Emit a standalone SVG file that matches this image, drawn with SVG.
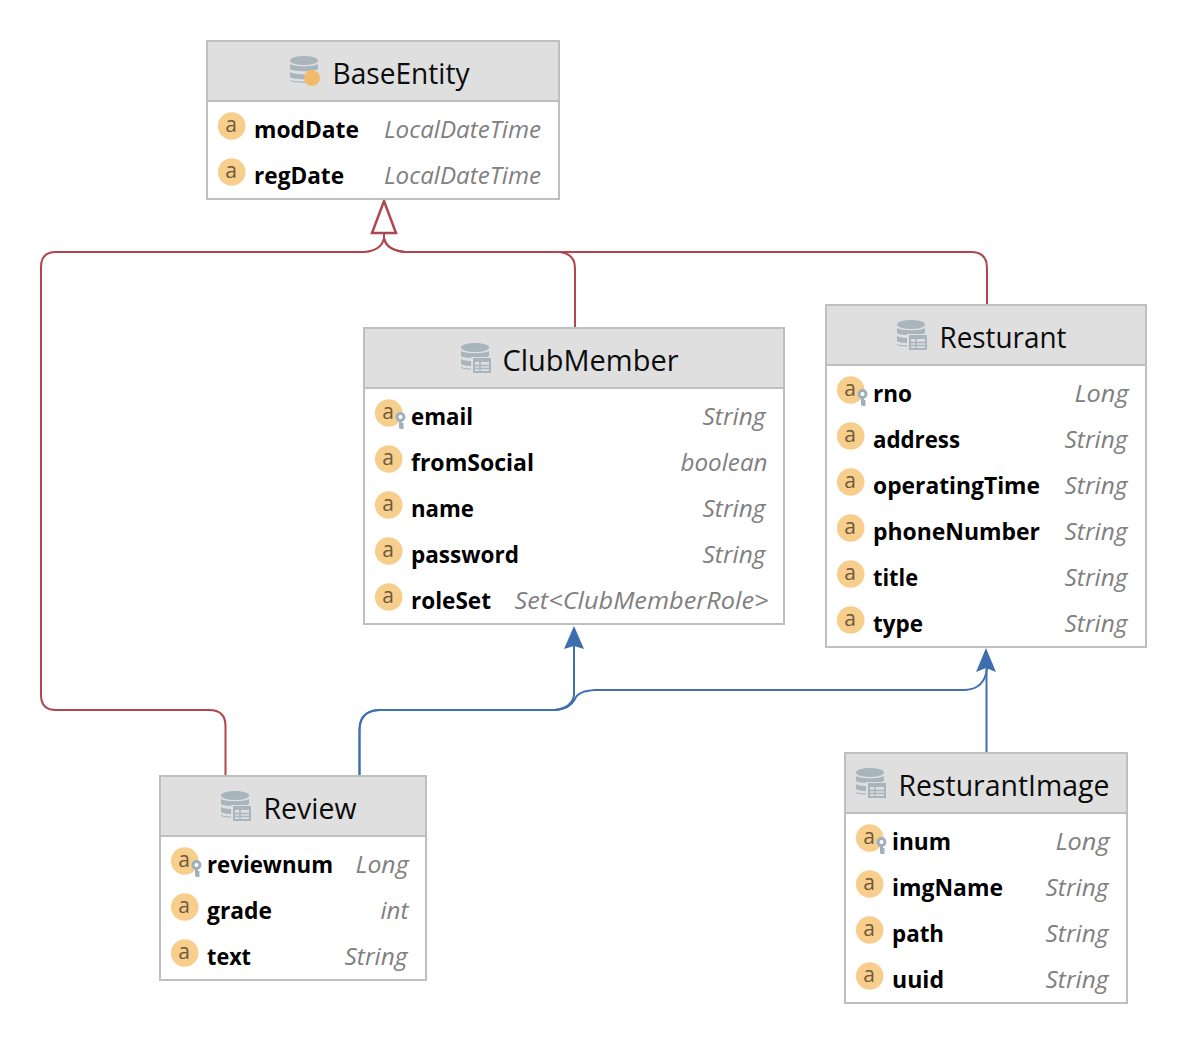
<svg xmlns="http://www.w3.org/2000/svg" width="1188" height="1039" viewBox="0 0 1188 1039">
<style>
text{font-family:"Open Sans","Noto Sans","Liberation Sans",sans-serif}
.box{fill:#fff;stroke:#bfbfbf;stroke-width:2}
.head{fill:#dfdfdf;stroke:#bfbfbf;stroke-width:2}
.title{font-size:29px;fill:#0c0c0c}
.n{font-size:24px;font-weight:700;fill:#000}
.t{font-size:24px;font-style:italic;fill:#808080}
.r{fill:none;stroke:#b0474f;stroke-width:2}
.b{fill:none;stroke:#4070b0;stroke-width:2}
.ic{font-size:21px;fill:#6b5a3e}
</style>
<defs>
<g id="a"><circle cx="-0.300" cy="0" r="13.800" fill="#f8ce8d"/><text class="ic" x="-1" y="5.500" text-anchor="middle">a</text></g>
<g id="k"><use href="#a"/><circle cx="11.500" cy="4" r="3.500" fill="#fff" stroke="#9fb0bd" stroke-width="3"/><path d="M11.500,7V15.500M11.500,11.500h3M11.500,14.500h3" fill="none" stroke="#9fb0bd" stroke-width="3"/></g>
<g id="db"><ellipse cx="14" cy="4.500" rx="14" ry="4.500" fill="#a9b5bd"/><path d="M0,8c4,3 24,3 28,0v5c-4,3 -24,3 -28,0zM0,16c4,3 24,3 28,0v5c-4,3 -24,3 -28,0zM0,24c4,2 24,2 28,0v0.500c0,3 -28,3 -28,0z" fill="#a9b5bd"/></g>
<g id="tb"><rect x="-2" y="-1" width="22" height="18" fill="#dfdfdf"/><rect x="0" y="0" width="18" height="15" fill="#a9b5bd"/><path d="M2,4h14v9h-14z" fill="#dfdfdf"/><path d="M2,7.500h14M2,10.500h14M7,4v9" stroke="#a9b5bd" stroke-width="1.500"/></g>
</defs>
<g id="connectors">
<path class="r" d="M225.500,775V726Q225.500,710 209,710H56Q41,710 41,695V267Q41,252 56,252H365Q382,250 384,238V232"/>
<path class="r" d="M575,327V268Q575,253 558,252H405Q386,250 384,238"/>
<path class="r" d="M987,304V268Q987,252 971,252H405Q386,250 384,238"/>
<path d="M384,201L396,233H372Z" fill="#fff" stroke="#b0474f" stroke-width="2.500"/>
<path class="b" d="M359.500,775V730Q359.500,711 379,710H555Q572,708 574,695V640"/>
<path class="b" d="M359.500,775V730Q359.500,711 379,710H555Q570,709 575,699Q578,691 595,690H965Q985,689 987,668"/>
<path class="b" d="M986.500,752V660"/>
<path d="M574,626L584,649L574,646L564,649Z" fill="#3d6fae"/>
<path d="M986,648L996,672L986,668L976,672Z" fill="#3d6fae"/>
</g>
<g id="BaseEntity">
<rect class="box" x="207" y="41" width="352" height="158"/><rect class="head" x="207" y="41" width="352" height="60"/>
<use href="#db" x="290" y="56"/><circle cx="312" cy="78" r="8" fill="#f0bc6c"/>
<text class="title" x="332.500" y="84" textLength="137" lengthAdjust="spacingAndGlyphs">BaseEntity</text>
<use href="#a" x="232" y="126"/><text class="n" x="254" y="138" textLength="105" lengthAdjust="spacingAndGlyphs">modDate</text><text class="t" x="384" y="138" textLength="157" lengthAdjust="spacingAndGlyphs">LocalDateTime</text>
<use href="#a" x="232" y="172"/><text class="n" x="254" y="184" textLength="90" lengthAdjust="spacingAndGlyphs">regDate</text><text class="t" x="384" y="184" textLength="157" lengthAdjust="spacingAndGlyphs">LocalDateTime</text>
</g>
<g id="ClubMember">
<rect class="box" x="364" y="328" width="420" height="296"/><rect class="head" x="364" y="328" width="420" height="60"/>
<use href="#db" x="461" y="343"/><use href="#tb" x="473" y="358"/>
<text class="title" x="502.500" y="371" textLength="176" lengthAdjust="spacingAndGlyphs">ClubMember</text>
<use href="#k" x="389" y="413"/><text class="n" x="411" y="425" textLength="62" lengthAdjust="spacingAndGlyphs">email</text><text class="t" x="702.500" y="425" textLength="63" lengthAdjust="spacingAndGlyphs">String</text>
<use href="#a" x="389" y="459"/><text class="n" x="411" y="471" textLength="123" lengthAdjust="spacingAndGlyphs">fromSocial</text><text class="t" x="680.500" y="471" textLength="87" lengthAdjust="spacingAndGlyphs">boolean</text>
<use href="#a" x="389" y="505"/><text class="n" x="411" y="517" textLength="63" lengthAdjust="spacingAndGlyphs">name</text><text class="t" x="702.500" y="517" textLength="63" lengthAdjust="spacingAndGlyphs">String</text>
<use href="#a" x="389" y="551"/><text class="n" x="411" y="563" textLength="108" lengthAdjust="spacingAndGlyphs">password</text><text class="t" x="702.500" y="563" textLength="63" lengthAdjust="spacingAndGlyphs">String</text>
<use href="#a" x="389" y="597"/><text class="n" x="411" y="609" textLength="80" lengthAdjust="spacingAndGlyphs">roleSet</text><text class="t" x="514.500" y="609" textLength="254" lengthAdjust="spacingAndGlyphs">Set&lt;ClubMemberRole&gt;</text>
</g>
<g id="Resturant">
<rect class="box" x="826" y="305" width="320" height="342"/><rect class="head" x="826" y="305" width="320" height="60"/>
<use href="#db" x="897" y="320"/><use href="#tb" x="909" y="335"/>
<text class="title" x="939.500" y="348" textLength="127" lengthAdjust="spacingAndGlyphs">Resturant</text>
<use href="#k" x="851" y="390"/><text class="n" x="873" y="402" textLength="39" lengthAdjust="spacingAndGlyphs">rno</text><text class="t" x="1074.500" y="402" textLength="54" lengthAdjust="spacingAndGlyphs">Long</text>
<use href="#a" x="851" y="436"/><text class="n" x="873" y="448" textLength="87" lengthAdjust="spacingAndGlyphs">address</text><text class="t" x="1064.500" y="448" textLength="63" lengthAdjust="spacingAndGlyphs">String</text>
<use href="#a" x="851" y="482"/><text class="n" x="873" y="494" textLength="167" lengthAdjust="spacingAndGlyphs">operatingTime</text><text class="t" x="1064.500" y="494" textLength="63" lengthAdjust="spacingAndGlyphs">String</text>
<use href="#a" x="851" y="528"/><text class="n" x="873" y="540" textLength="167" lengthAdjust="spacingAndGlyphs">phoneNumber</text><text class="t" x="1064.500" y="540" textLength="63" lengthAdjust="spacingAndGlyphs">String</text>
<use href="#a" x="851" y="574"/><text class="n" x="873" y="586" textLength="45" lengthAdjust="spacingAndGlyphs">title</text><text class="t" x="1064.500" y="586" textLength="63" lengthAdjust="spacingAndGlyphs">String</text>
<use href="#a" x="851" y="620"/><text class="n" x="873" y="632" textLength="50" lengthAdjust="spacingAndGlyphs">type</text><text class="t" x="1064.500" y="632" textLength="63" lengthAdjust="spacingAndGlyphs">String</text>
</g>
<g id="Review">
<rect class="box" x="160" y="776" width="266" height="204"/><rect class="head" x="160" y="776" width="266" height="60"/>
<use href="#db" x="221" y="791"/><use href="#tb" x="233" y="806"/>
<text class="title" x="263.500" y="819" textLength="93" lengthAdjust="spacingAndGlyphs">Review</text>
<use href="#k" x="185" y="861"/><text class="n" x="207" y="873" textLength="126" lengthAdjust="spacingAndGlyphs">reviewnum</text><text class="t" x="355.500" y="873" textLength="53" lengthAdjust="spacingAndGlyphs">Long</text>
<use href="#a" x="185" y="907"/><text class="n" x="207" y="919" textLength="65" lengthAdjust="spacingAndGlyphs">grade</text><text class="t" x="380.500" y="919" textLength="28" lengthAdjust="spacingAndGlyphs">int</text>
<use href="#a" x="185" y="953"/><text class="n" x="207" y="965" textLength="44" lengthAdjust="spacingAndGlyphs">text</text><text class="t" x="344.500" y="965" textLength="63" lengthAdjust="spacingAndGlyphs">String</text>
</g>
<g id="ResturantImage">
<rect class="box" x="845" y="753" width="282" height="250"/><rect class="head" x="845" y="753" width="282" height="60"/>
<use href="#db" x="856" y="768"/><use href="#tb" x="868" y="783"/>
<text class="title" x="898.500" y="796" textLength="211" lengthAdjust="spacingAndGlyphs">ResturantImage</text>
<use href="#k" x="870" y="838"/><text class="n" x="892" y="850" textLength="59" lengthAdjust="spacingAndGlyphs">inum</text><text class="t" x="1055.500" y="850" textLength="54" lengthAdjust="spacingAndGlyphs">Long</text>
<use href="#a" x="870" y="884"/><text class="n" x="892" y="896" textLength="111" lengthAdjust="spacingAndGlyphs">imgName</text><text class="t" x="1045.500" y="896" textLength="63" lengthAdjust="spacingAndGlyphs">String</text>
<use href="#a" x="870" y="930"/><text class="n" x="892" y="942" textLength="52" lengthAdjust="spacingAndGlyphs">path</text><text class="t" x="1045.500" y="942" textLength="63" lengthAdjust="spacingAndGlyphs">String</text>
<use href="#a" x="870" y="976"/><text class="n" x="892" y="988" textLength="52" lengthAdjust="spacingAndGlyphs">uuid</text><text class="t" x="1045.500" y="988" textLength="63" lengthAdjust="spacingAndGlyphs">String</text>
</g>
</svg>
